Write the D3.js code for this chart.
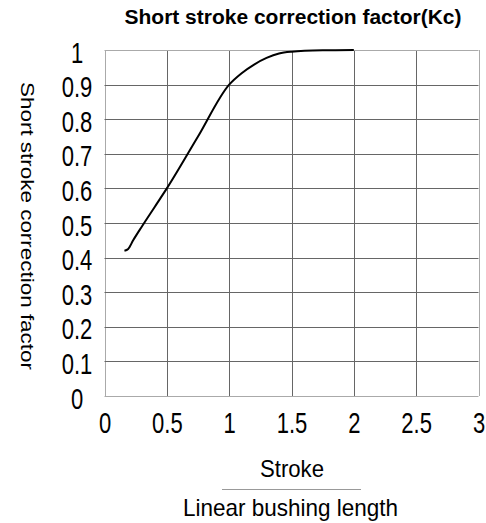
<!DOCTYPE html>
<html>
<head>
<meta charset="utf-8">
<script src="https://cdn.jsdelivr.net/npm/d3@7"></script>
<style>
  html, body { margin: 0; padding: 0; background: #fff; }
  svg { display: block; }
  text { font-family: "Liberation Sans", Arial, sans-serif; fill: #000; }
</style>
</head>
<body>
<svg id="chart" width="486" height="523"></svg>
<script>
// Data
const strokeRatio = [0.16, 0.19, 0.23, 0.30, 0.40, 0.50, 0.75, 1.00, 1.10, 1.20, 1.30, 1.40, 1.50, 1.75, 2.00];
const kcValue     = [0.42, 0.425, 0.45, 0.49, 0.545, 0.60, 0.75, 0.90, 0.933, 0.958, 0.977, 0.990, 0.995, 0.999, 1.00];
const xTicks = [0, 0.5, 1, 1.5, 2, 2.5, 3];
const xTickLabels = ["0", "0.5", "1", "1.5", "2", "2.5", "3"];
const yTicks = [0, 0.1, 0.2, 0.3, 0.4, 0.5, 0.6, 0.7, 0.8, 0.9, 1];
const yTickLabels = ["0", "0.1", "0.2", "0.3", "0.4", "0.5", "0.6", "0.7", "0.8", "0.9", "1"];
const titleText = "Short stroke correction factor(Kc)";
const yLabelText = "Short stroke correction factor";
const xLabelTop = "Stroke";
const xLabelBottom = "Linear bushing length";

(function () {
const svg = d3.select("#chart");
const pLeft = 104.5, pRight = 478.5, pTop = 50, pBottom = 396;

const x = d3.scaleLinear().domain([0, 3]).range([pLeft, pRight]);
const y = d3.scaleLinear().domain([0, 1]).range([pBottom, pTop]);

// Grid
const grid = svg.append("g");
grid.selectAll("line.v").data(xTicks).enter().append("line")
  .attr("x1", d => Math.round(x(d)) + 0.5).attr("x2", d => Math.round(x(d)) + 0.5)
  .attr("y1", pTop).attr("y2", pBottom)
  .attr("stroke", d => (d === 0 || d === 3) ? "#aaa" : "#666").attr("stroke-width", 1);
grid.selectAll("line.h").data(yTicks).enter().append("line")
  .attr("y1", d => Math.round(y(d)) + 0.5).attr("y2", d => Math.round(y(d)) + 0.5)
  .attr("x1", pLeft).attr("x2", pRight)
  .attr("stroke", d => (d === 0 || d === 1) ? "#aaa" : "#666").attr("stroke-width", 1);

// Axes tick labels via d3 axes (no lines)
const xAxis = d3.axisBottom(x).tickValues(xTicks).tickFormat((d, i) => xTickLabels[i]).tickSize(0).tickPadding(0);
const gx = svg.append("g").attr("transform", `translate(0, ${pBottom})`).call(xAxis);
gx.select(".domain").remove();
gx.selectAll("text").attr("font-size", 29).attr("dy", null).attr("y", 0).attr("x", 0)
  .attr("text-anchor", "middle")
  .attr("transform", "translate(0, 37) scale(0.76, 1)")
  .style("font-family", '"Liberation Sans", Arial, sans-serif').attr("fill", "#000");

const yAxis = d3.axisLeft(y).tickValues(yTicks).tickFormat((d, i) => yTickLabels[i]).tickSize(0).tickPadding(0);
const gy = svg.append("g").attr("transform", `translate(77, 0)`).call(yAxis);
gy.select(".domain").remove();
gy.selectAll("text").attr("font-size", 29).attr("text-anchor", "middle").attr("x", 0)
  .attr("dy", null).attr("y", 0)
  .attr("transform", "translate(0, 12) scale(0.76, 1)")
  .style("font-family", '"Liberation Sans", Arial, sans-serif').attr("fill", "#000");

// Curve
const pts = strokeRatio.map((s, i) => [s, kcValue[i]]);
const line = d3.line().x(d => x(d[0])).y(d => y(d[1])).curve(d3.curveMonotoneX);
svg.append("path").datum(pts).attr("d", line)
  .attr("fill", "none").attr("stroke", "#000").attr("stroke-width", 2);

// Title
svg.append("text").attr("x", 293).attr("y", 24).attr("text-anchor", "middle")
  .attr("font-size", 20).attr("font-weight", "bold")
  .attr("textLength", 337).attr("lengthAdjust", "spacingAndGlyphs")
  .text(titleText);

// Y label
svg.append("text").attr("transform", "translate(21, 226) rotate(90)")
  .attr("text-anchor", "middle").attr("font-size", 19)
  .attr("textLength", 288).attr("lengthAdjust", "spacingAndGlyphs")
  .text(yLabelText);

// X labels
svg.append("text").attr("x", 292).attr("y", 477).attr("text-anchor", "middle")
  .attr("font-size", 24).attr("textLength", 64).attr("lengthAdjust", "spacingAndGlyphs")
  .text(xLabelTop);
svg.append("line").attr("x1", 222).attr("x2", 361).attr("y1", 489.5).attr("y2", 489.5)
  .attr("stroke", "#999").attr("stroke-width", 1);
svg.append("text").attr("x", 290.5).attr("y", 516).attr("text-anchor", "middle")
  .attr("font-size", 24).attr("textLength", 215).attr("lengthAdjust", "spacingAndGlyphs")
  .text(xLabelBottom);
})();
</script>
</body>
</html>
